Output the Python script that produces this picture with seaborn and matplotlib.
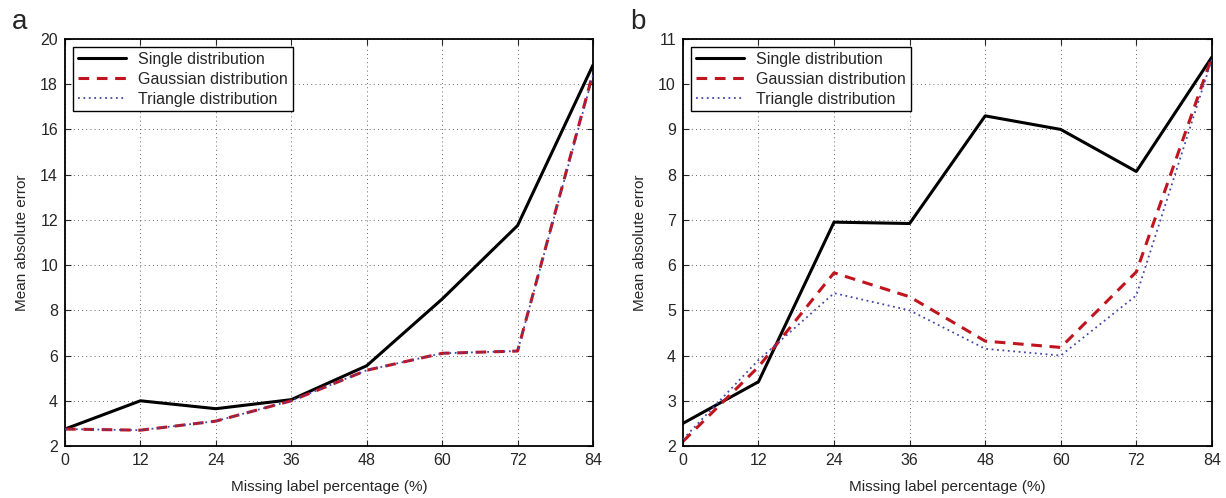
import matplotlib
matplotlib.use('Agg')
import matplotlib.pyplot as plt
import seaborn as sns

missing_pct = [0, 12, 24, 36, 48, 60, 72, 84]

# panel a
single_a = [2.75, 4.0, 3.65, 4.05, 5.55, 8.5, 11.75, 18.85]
gauss_a = [2.75, 2.7, 3.1, 4.0, 5.35, 6.1, 6.2, 18.5]
tri_a = [2.75, 2.7, 3.1, 4.0, 5.35, 6.1, 6.2, 18.4]

# panel b
single_b = [2.5, 3.42, 6.95, 6.92, 9.3, 9.0, 8.07, 10.6]
gauss_b = [2.1, 3.75, 5.83, 5.3, 4.32, 4.18, 5.85, 10.6]
tri_b = [2.15, 3.9, 5.38, 5.0, 4.15, 4.0, 5.33, 10.55]

yticks_a = list(range(2, 21, 2))
yticks_b = list(range(2, 12))

sns.set_style("ticks")
plt.rcParams['font.family'] = ['Liberation Sans', 'DejaVu Sans']
plt.rcParams['font.size'] = 11

fig = plt.figure(figsize=(12.26, 4.98), dpi=100)
ax_a = fig.add_axes([0.053, 0.1044, 0.4307, 0.8173])
ax_b = fig.add_axes([0.557, 0.1044, 0.4315, 0.8173])


def draw(ax, single, gauss, tri, yticks, letter):
    sns.lineplot(x=missing_pct, y=single, ax=ax, color="black", linewidth=2.2,
                 label="Single distribution")
    sns.lineplot(x=missing_pct, y=tri, ax=ax, color="#4646a8", linewidth=1.3,
                 linestyle=(0, (1, 2.0)), label="Triangle distribution", zorder=3)
    sns.lineplot(x=missing_pct, y=gauss, ax=ax, color="#c0141e", linewidth=2.2,
                 linestyle=(0, (3.5, 2.5)), label="Gaussian distribution", zorder=2)
    ax.set_xlim(0, 84)
    ax.set_ylim(yticks[0], yticks[-1])
    ax.set_xticks(missing_pct)
    ax.set_yticks(yticks)
    ax.grid(True, linestyle=(0, (1, 4)), color="black", linewidth=0.6, alpha=0.8)
    ax.tick_params(direction="in", top=True, right=True, labelsize=11.5,
                   length=4, width=0.8, pad=5)
    for sp in ax.spines.values():
        sp.set_linewidth(1.3)
        sp.set_color("black")
    ax.set_xlabel("Missing label percentage (%)", fontsize=11, labelpad=9)
    ax.set_ylabel("Mean absolute error", fontsize=11, labelpad=8)
    handles, labels = ax.get_legend_handles_labels()
    order = [labels.index(n) for n in
             ["Single distribution", "Gaussian distribution", "Triangle distribution"]]
    leg = ax.legend([handles[i] for i in order], [labels[i] for i in order],
                    loc="upper left", bbox_to_anchor=(0.015, 0.98), borderaxespad=0,
                    fontsize=11.5, fancybox=False, framealpha=1, edgecolor="black",
                    handlelength=3.0, borderpad=0.3, labelspacing=0.3)
    leg.get_frame().set_linewidth(1.0)
    ax.text(-0.1, 1.01, letter, transform=ax.transAxes, fontsize=20,
            va="bottom", ha="left")


draw(ax_a, single_a, gauss_a, tri_a, yticks_a, "a")
draw(ax_b, single_b, gauss_b, tri_b, yticks_b, "b")

fig.savefig("out.png", dpi=100)
